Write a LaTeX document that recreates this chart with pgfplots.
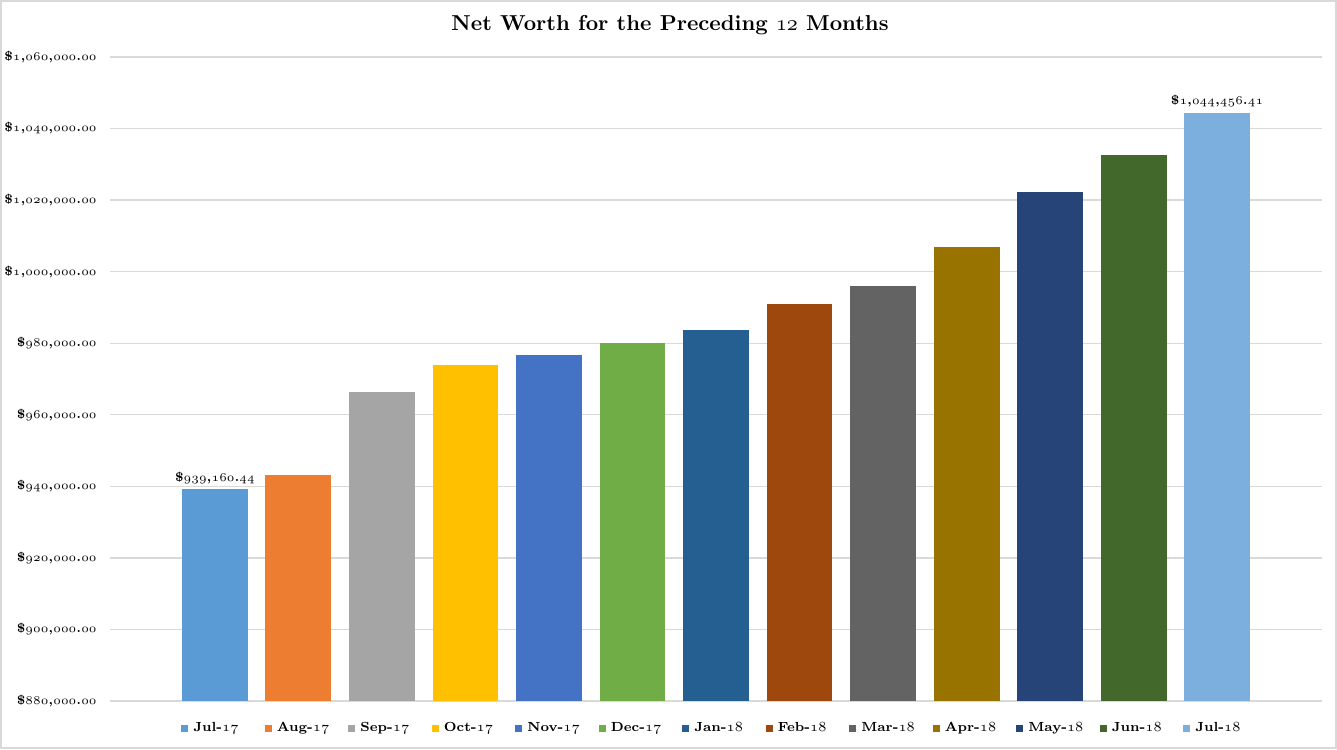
\documentclass[border=0pt]{standalone}
\usepackage{pgfplots}
\pgfplotsset{compat=1.18}

\definecolor{gridc}{HTML}{D9D9D9}
\definecolor{c1}{HTML}{5B9BD5}
\definecolor{c2}{HTML}{ED7D31}
\definecolor{c3}{HTML}{A5A5A5}
\definecolor{c4}{HTML}{FFC000}
\definecolor{c5}{HTML}{4472C4}
\definecolor{c6}{HTML}{70AD47}
\definecolor{c7}{HTML}{255E91}
\definecolor{c8}{HTML}{9E480E}
\definecolor{c9}{HTML}{636363}
\definecolor{c10}{HTML}{997300}
\definecolor{c11}{HTML}{264478}
\definecolor{c12}{HTML}{43682B}
\definecolor{c13}{HTML}{7CAFDD}

% bold old-style figures, like the original's Constantia
\newcommand{\os}[1]{{\usefont{OML}{lmm}{b}{it}#1}}
\newcommand{\smallfont}{\bfseries\fontsize{6.2}{7}\selectfont}
\newcommand{\legfont}{\bfseries\fontsize{6.6}{7.5}\selectfont}

\begin{document}
\begin{tikzpicture}
\begin{axis}[
    name=ax,
    scale only axis,
    width=606pt, height=322pt,
    xmin=-1.257, xmax=13.257,
    ymin=880000, ymax=1060000,
    scaled y ticks=false,
    xtick=\empty,
    ytick={880000,900000,920000,940000,960000,980000,1000000,1020000,1040000,1060000},
    yticklabels={
        {\$\os{880},\os{000}.\os{00}},
        {\$\os{900},\os{000}.\os{00}},
        {\$\os{920},\os{000}.\os{00}},
        {\$\os{940},\os{000}.\os{00}},
        {\$\os{960},\os{000}.\os{00}},
        {\$\os{980},\os{000}.\os{00}},
        {\$\os{1},\os{000},\os{000}.\os{00}},
        {\$\os{1},\os{020},\os{000}.\os{00}},
        {\$\os{1},\os{040},\os{000}.\os{00}},
        {\$\os{1},\os{060},\os{000}.\os{00}}},
    yticklabel style={font=\smallfont, inner xsep=0pt, xshift=-6.5pt},
    ymajorgrids=true,
    grid style={gridc, line width=0.7pt},
    axis line style={draw=none},
    major tick length=0pt,
    every axis title shift=0pt,
    title={Net Worth for the Preceding \os{12} Months},
    title style={font=\bfseries\fontsize{10.8}{12}\selectfont, at={(0.5,1)}, anchor=center, yshift=16pt, xshift=-23pt},
    every axis plot/.append style={ybar, bar width=0.79, bar shift=0pt, draw=none},
    legend columns=13,
    legend image code/.code={\fill[#1] (0pt,-1.75pt) rectangle (3.5pt,1.75pt);},
    legend style={at={(0,0)}, anchor=west, xshift=35.5pt, yshift=-13.5pt,
        draw=none, fill=none, inner sep=0pt, font=\legfont,
        nodes={inner xsep=0pt, inner ysep=1pt, text width=35.75pt, align=left},
        /tikz/every odd column/.append style={column sep=2.5pt},
        /tikz/every even column/.append style={column sep=0pt}},
    nodes near coords style={font=\smallfont, anchor=south, inner sep=1pt, yshift=1.5pt},
]
\addplot[fill=c1, nodes near coords={\$\os{939},\os{160}.\os{44}}] coordinates {(0,939160.44)};
\addlegendentry{Jul-\os{17}}
\addplot[fill=c2] coordinates {(1,943100)};
\addlegendentry{Aug-\os{17}}
\addplot[fill=c3] coordinates {(2,966500)};
\addlegendentry{Sep-\os{17}}
\addplot[fill=c4] coordinates {(3,974000)};
\addlegendentry{Oct-\os{17}}
\addplot[fill=c5] coordinates {(4,976800)};
\addlegendentry{Nov-\os{17}}
\addplot[fill=c6] coordinates {(5,980100)};
\addlegendentry{Dec-\os{17}}
\addplot[fill=c7] coordinates {(6,983700)};
\addlegendentry{Jan-\os{18}}
\addplot[fill=c8] coordinates {(7,990900)};
\addlegendentry{Feb-\os{18}}
\addplot[fill=c9] coordinates {(8,995900)};
\addlegendentry{Mar-\os{18}}
\addplot[fill=c10] coordinates {(9,1007000)};
\addlegendentry{Apr-\os{18}}
\addplot[fill=c11] coordinates {(10,1022300)};
\addlegendentry{May-\os{18}}
\addplot[fill=c12] coordinates {(11,1032600)};
\addlegendentry{Jun-\os{18}}
\addplot[fill=c13, nodes near coords={\$\os{1},\os{044},\os{456}.\os{41}}] coordinates {(12,1044456.41)};
\addlegendentry{Jul-\os{18}}
\end{axis}
\pgfresetboundingbox
\path[use as bounding box] ([xshift=-55pt,yshift=-24pt]ax.south west) rectangle ([xshift=7.5pt,yshift=28.5pt]ax.north east);
\draw[gridc, line width=1pt] ([xshift=-54.5pt,yshift=-23.5pt]ax.south west) rectangle ([xshift=7pt,yshift=28pt]ax.north east);
\end{tikzpicture}
\end{document}
